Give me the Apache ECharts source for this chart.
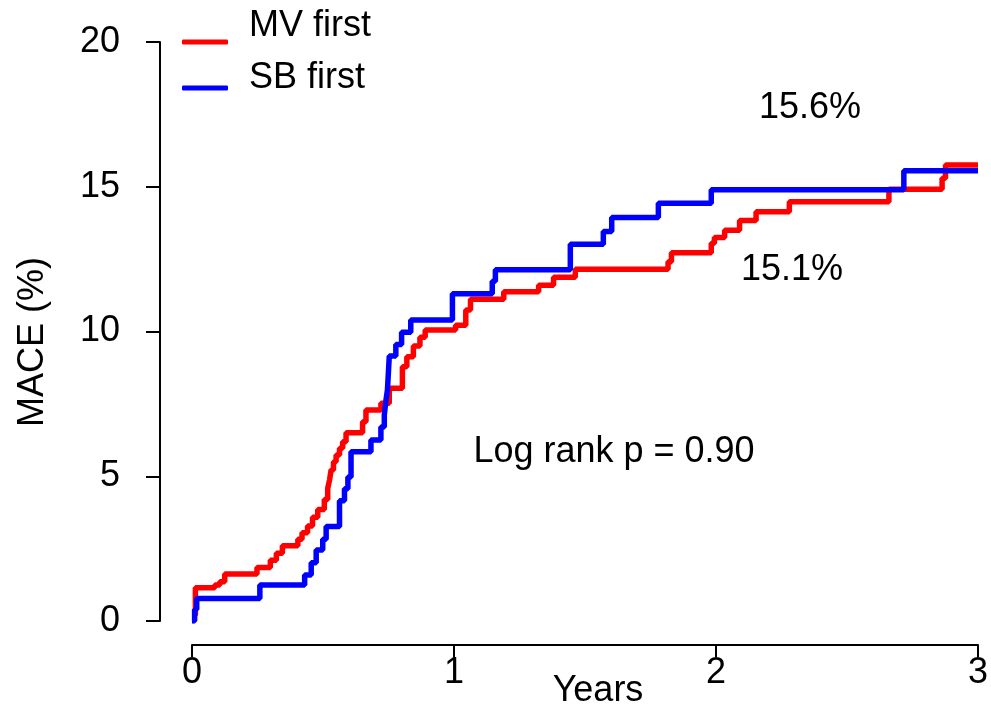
<!DOCTYPE html>
<html>
<head>
<meta charset="utf-8">
<script src="https://cdn.jsdelivr.net/npm/echarts@6/dist/echarts.min.js"></script>
<style>
    html, body { margin: 0; padding: 0; background: #fff; }
    #km-chart { width: 991px; height: 708px; }
</style>
</head>
<body>
<div id="km-chart"></div>
<script>
// MV first (red) - time in years, cumulative MACE %
var mvTime = [0, 0.013, 0.087, 0.106, 0.125, 0.248, 0.299, 0.322, 0.345, 0.404,
    0.42, 0.441, 0.46, 0.48, 0.505, 0.518, 0.525, 0.531, 0.54, 0.55,
    0.563, 0.575, 0.588, 0.651, 0.664, 0.721, 0.753, 0.803, 0.82, 0.845,
    0.87, 0.89, 1.006, 1.045, 1.063, 1.19, 1.323, 1.38, 1.463, 1.817,
    1.83, 1.982, 1.994, 2.033, 2.09, 2.153, 2.28, 2.66, 2.863, 2.876, 3.0];
var mvValue = [0.2, 1.15, 1.24, 1.36, 1.62, 1.85, 2.1, 2.34, 2.6, 2.82,
    3.05, 3.28, 3.58, 3.85, 4.2, 4.58, 4.87, 5.22, 5.5, 5.73,
    5.97, 6.19, 6.5, 6.88, 7.29, 7.52, 8.04, 8.78, 9.13, 9.5,
    9.8, 10.05, 10.22, 10.74, 11.11, 11.37, 11.6, 11.87, 12.15, 12.41,
    12.72, 13.05, 13.25, 13.5, 13.83, 14.14, 14.48, 14.91, 15.29, 15.75, 15.75];

// SB first (blue)
var sbTime = [0, 0.01, 0.018, 0.259, 0.43, 0.455, 0.474, 0.499, 0.512, 0.563,
    0.582, 0.595, 0.607, 0.683, 0.721, 0.734, 0.74, 0.746, 0.753, 0.778,
    0.8, 0.835, 0.994, 1.146, 1.158, 1.444, 1.57, 1.602, 1.78, 1.982, 2.717, 3.0];
var sbValue = [0, 0.4, 0.78, 1.24, 1.59, 2.01, 2.45, 2.82, 3.26, 4.15,
    4.57, 4.97, 5.85, 6.25, 6.7, 7.12, 7.6, 7.98, 9.15, 9.55,
    9.97, 10.4, 11.3, 11.74, 12.13, 13.01, 13.45, 13.94, 14.43, 14.9, 15.55, 15.55];

var seriesNames = ['MV first', 'SB first'];
var seriesColors = ['#ff0000', '#0000ff'];
var xTicks = [0, 1, 2, 3];
var yTicks = [0, 5, 10, 15, 20];

var font = '"Liberation Sans", Arial, sans-serif';

function pairs(t, v) {
    var out = [];
    for (var i = 0; i < t.length; i++) {
        out.push([t[i], v[i]]);
    }
    return out;
}

// one legend box per series, text sits above its line like in R
function legendFor(name, top, lift) {
    return {
        data: [name],
        left: 182,
        top: top,
        padding: 0,
        itemWidth: 46,
        itemHeight: 5,
        icon: 'roundRect',
        formatter: '{n|{name}}',
        textStyle: {
            fontFamily: font,
            color: '#000',
            rich: {
                n: {
                    fontFamily: font,
                    fontSize: 36,
                    lineHeight: 36,
                    color: '#000',
                    padding: [0, 0, lift, 16]
                }
            }
        }
    };
}

var myChart = echarts.init(document.getElementById('km-chart'));

var option = {
    animation: false,
    backgroundColor: '#fff',
    textStyle: { fontFamily: font },
    grid: {
        left: 192,
        right: 10,
        top: 42,
        bottom: 87,
        containLabel: false
    },
    legend: [legendFor(seriesNames[0], 8, 32), legendFor(seriesNames[1], 60, 20)],
    xAxis: {
        type: 'value',
        min: xTicks[0],
        max: xTicks[xTicks.length - 1],
        interval: 1,
        offset: 24,
        splitLine: { show: false },
        axisLine: { onZero: false, lineStyle: { color: '#000', width: 2 } },
        axisTick: { length: 12, lineStyle: { color: '#000', width: 2 } },
        axisLabel: {
            fontFamily: font,
            fontSize: 36,
            color: '#000',
            margin: 10
        }
    },
    yAxis: {
        type: 'value',
        min: yTicks[0],
        max: yTicks[yTicks.length - 1],
        interval: 5,
        offset: 32,
        splitLine: { show: false },
        axisLine: { show: true, onZero: false, lineStyle: { color: '#000', width: 2 } },
        axisTick: { show: true, length: 14, lineStyle: { color: '#000', width: 2 } },
        axisLabel: {
            fontFamily: font,
            fontSize: 36,
            color: '#000',
            margin: 40
        }
    },
    graphic: [
        { type: 'text', x: 33, y: 342, rotation: Math.PI / 2,
          style: { text: 'MACE (%)', font: '36px ' + font, fill: '#000',
                   textAlign: 'center', textVerticalAlign: 'middle' } },
        { type: 'text', x: 598, y: 691,
          style: { text: 'Years', font: '36px ' + font, fill: '#000',
                   textAlign: 'center', textVerticalAlign: 'middle' } },
        { type: 'text', x: 614, y: 452,
          style: { text: 'Log rank p = 0.90', font: '36px ' + font, fill: '#000',
                   textAlign: 'center', textVerticalAlign: 'middle' } },
        { type: 'text', x: 810, y: 108,
          style: { text: '15.6%', font: '36px ' + font, fill: '#000',
                   textAlign: 'center', textVerticalAlign: 'middle' } },
        { type: 'text', x: 792, y: 270,
          style: { text: '15.1%', font: '36px ' + font, fill: '#000',
                   textAlign: 'center', textVerticalAlign: 'middle' } }
    ],
    series: [
        {
            name: seriesNames[0],
            type: 'line',
            step: 'end',
            symbol: 'none',
            color: seriesColors[0],
            lineStyle: { width: 5.5, color: seriesColors[0] },
            data: pairs(mvTime, mvValue)
        },
        {
            name: seriesNames[1],
            type: 'line',
            step: 'end',
            symbol: 'none',
            color: seriesColors[1],
            lineStyle: { width: 5.5, color: seriesColors[1] },
            data: pairs(sbTime, sbValue)
        }
    ]
};

myChart.setOption(option);
</script>
</body>
</html>
